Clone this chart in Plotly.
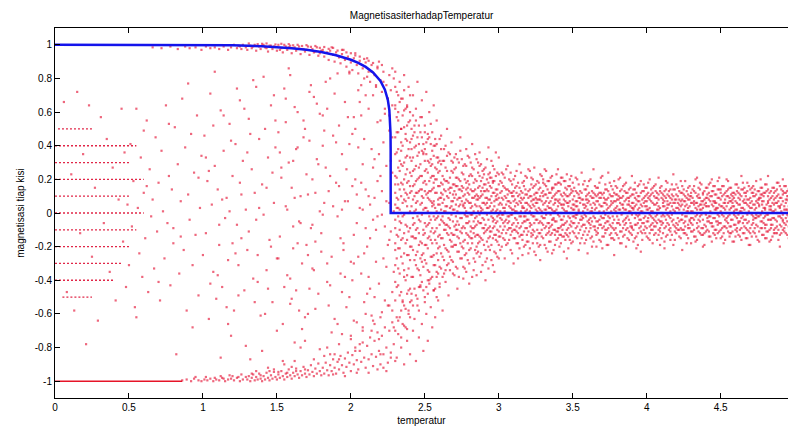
import plotly.graph_objects as go

title_text = "MagnetisasiterhadapTemperatur"
x_label = "temperatur"
y_label = "magnetisasi tiap kisi"

x_tick_vals = [0, 0.5, 1, 1.5, 2, 2.5, 3, 3.5, 4, 4.5]
x_tick_text = ["0", "0.5", "1", "1.5", "2", "2.5", "3", "3.5", "4", "4.5"]
y_tick_vals = [-1, -0.8, -0.6, -0.4, -0.2, 0, 0.2, 0.4, 0.6, 0.8, 1]
y_tick_text = ["-1", "-0.8", "-0.6", "-0.4", "-0.2", "0", "0.2", "0.4", "0.6", "0.8", "1"]

# blue curve
onsager_T = [0, 1.0, 1.2, 1.4, 1.5, 1.6, 1.7, 1.8, 1.9, 2.0, 2.05, 2.1, 2.15, 2.2,
             2.23, 2.24, 2.25, 2.26, 2.265, 2.268, 2.269, 2.2692, 4.96]
onsager_m = [1.0, 0.9993, 0.997, 0.9914, 0.9865, 0.9796, 0.9701, 0.9569, 0.9383, 0.9113,
             0.8928, 0.8687, 0.8357, 0.7848, 0.7332, 0.7074, 0.6718, 0.6136, 0.5565,
             0.475, 0.376, 0.0, 0.0]

# low-temperature stuck states (dotted streaks)
streak_m = [0.5, 0.4, 0.3, 0.2, 0.1, 0.0, -0.1, -0.2, -0.3, -0.4, -0.5]
streak_T_start = [0.02, 0.0, 0.0, 0.0, 0.0, 0.0, 0.0, 0.0, 0.0, 0.0, 0.05]
streak_T_end = [0.25, 0.55, 0.5, 0.6, 0.5, 0.6, 0.55, 0.5, 0.45, 0.4, 0.25]

ground_T = [0.0, 0.86]
ground_m = [-1.0, -1.0]

upper_branch = [
    (0.66, .985), (0.72, .98), (0.78, .99), (0.83, .975), (0.88, .99), (0.91, .98), (0.95, .985),
    (0.99, .97), (1.02, .99), (1.05, .98), (1.08, .985), (1.11, .975), (1.14, .99), (1.17, .97), (1.19, .985),
    (1.21, 1.0), (1.23, .98), (1.24, .995), (1.26, .975), (1.27, 1.0), (1.29, .985), (1.30, .97), (1.32, .995),
    (1.33, .98), (1.35, 1.0), (1.36, .965), (1.38, .99), (1.39, .975), (1.41, 1.0), (1.42, .985), (1.44, .96),
    (1.45, .995), (1.47, .975), (1.48, .99), (1.50, .965), (1.51, 1.0), (1.53, .98), (1.54, .955), (1.56, .99),
    (1.57, .97), (1.59, .995), (1.60, .95), (1.62, .985), (1.63, .965), (1.65, .99), (1.66, .945), (1.68, .975),
    (1.69, .96), (1.71, .99), (1.72, .94), (1.74, .975), (1.75, .955), (1.77, .985), (1.78, .935), (1.80, .965),
    (1.25, .99), (1.34, .99), (1.43, .98), (1.52, .97), (1.58, .985), (1.64, .975), (1.70, .97), (1.76, .96),
    (1.79, .95), (1.46, .995),
    (1.31, 1.008), (1.37, 1.004), (1.43, 1.008), (1.49, 1.002), (1.55, 1.0), (1.61, .997), (1.67, .993),
    (1.73, .988), (1.79, .982), (1.85, .976), (1.91, .966), (1.97, .955), (2.03, .937), (2.09, .916),
    (2.15, .892), (1.53, 1.006), (1.64, 1.0), (1.76, .993), (1.88, .982), (2.00, .95), (1.40, 1.006),
    (1.58, 1.004), (1.70, .998), (1.82, .987), (1.94, .97), (2.06, .93), (2.12, .905), (2.18, .87),
    (1.81, .97), (1.82, .93), (1.84, .955), (1.85, .91), (1.86, .965), (1.88, .94), (1.89, .90), (1.90, .955),
    (1.92, .925), (1.93, .89), (1.94, .945), (1.96, .91), (1.97, .87), (1.98, .93), (2.00, .895), (2.01, .85),
    (2.02, .92), (2.04, .88), (2.05, .83), (2.06, .905), (2.08, .86), (2.09, .80), (2.10, .895), (2.12, .84),
    (2.13, .78), (2.14, .88), (2.16, .82), (2.17, .75), (2.18, .86), (2.20, .79), (2.21, .72), (2.22, .84),
    (2.24, .76), (2.25, .68), (2.26, .82), (2.27, .73), (2.28, .64), (2.29, .80), (1.87, .985), (1.95, .97),
    (2.03, .95), (2.11, .92), (2.19, .90), (2.23, .62), (2.26, .58), (2.15, .70), (2.07, .76), (1.99, .83),
    (2.21, .88), (2.28, .86),
    (2.30, .84), (2.31, .72), (2.32, .60), (2.33, .78), (2.34, .50), (2.35, .68), (2.36, .82), (2.37, .44),
    (2.38, .63), (2.39, .75), (2.40, .55), (2.41, .38), (2.42, .70), (2.43, .48), (2.44, .62), (2.45, .78),
    (2.46, .41), (2.47, .57), (2.48, .67), (2.49, .35), (2.50, .52), (2.51, .72), (2.52, .44), (2.53, .60),
    (2.54, .32), (2.55, .48), (2.56, .64), (2.57, .40), (2.58, .55), (2.59, .30), (2.61, .46), (2.63, .38),
    (2.65, .50), (2.68, .42), (2.71, .35), (2.74, .45), (2.78, .38), (2.82, .41), (2.87, .36), (2.93, .39),
]

lower_branch = [
    (0.86, -.995), (0.89, -.99), (0.92, -1.0), (0.94, -.985), (0.97, -.995), (0.99, -1.0), (1.01, -.99),
    (1.03, -.995), (1.05, -.985), (1.07, -1.0), (1.09, -.99), (1.11, -.995), (1.13, -.98), (1.15, -1.0),
    (1.17, -.99), (1.19, -.985), (1.21, -.995), (1.23, -.98), (1.25, -1.0), (1.27, -.99), (1.29, -.975),
    (1.12, -.97), (1.18, -.965), (1.24, -.975), (0.95, -.975),
    (1.02, -.975), (1.08, -.98), (1.14, -.985), (1.20, -.97), (1.26, -.96), (1.33, -.955), (1.39, -.965),
    (1.45, -.94), (1.51, -.945), (1.57, -.95), (1.63, -.94), (1.69, -.93), (1.36, -.94), (1.48, -.93),
    (1.60, -.915),
    (1.30, -.99), (1.31, -.97), (1.32, -1.0), (1.33, -.98), (1.34, -.96), (1.35, -.995), (1.36, -.975),
    (1.37, -.99), (1.38, -.955), (1.39, -.985), (1.40, -1.0), (1.41, -.97), (1.42, -.99), (1.43, -.95),
    (1.44, -.98), (1.45, -.995), (1.46, -.965), (1.47, -.985), (1.48, -.945), (1.49, -.975), (1.50, -.99),
    (1.51, -.96), (1.52, -.98), (1.53, -.94), (1.54, -.97), (1.55, -.99), (1.56, -.955), (1.57, -.975),
    (1.58, -.93), (1.59, -.965), (1.60, -.985), (1.61, -.95), (1.62, -.97), (1.63, -.925), (1.64, -.96),
    (1.65, -.98), (1.66, -.94), (1.67, -.965), (1.68, -.915), (1.69, -.955), (1.70, -.975), (1.71, -.935),
    (1.72, -.96), (1.73, -.905), (1.74, -.945), (1.75, -.97), (1.76, -.925), (1.77, -.955), (1.78, -.895),
    (1.79, -.94), (1.80, -.965), (1.44, -.92), (1.55, -.90), (1.62, -.88), (1.75, -.87),
    (1.81, -.92), (1.82, -.955), (1.83, -.89), (1.84, -.935), (1.85, -.965), (1.86, -.905), (1.87, -.94),
    (1.88, -.87), (1.89, -.92), (1.90, -.955), (1.91, -.885), (1.92, -.93), (1.93, -.85), (1.94, -.905),
    (1.95, -.95), (1.96, -.865), (1.97, -.915), (1.98, -.83), (1.99, -.89), (2.00, -.94), (2.01, -.845),
    (2.02, -.9), (2.03, -.80), (2.04, -.875), (2.05, -.93), (2.06, -.82), (2.07, -.885), (2.08, -.77),
    (2.09, -.86), (2.10, -.92), (2.11, -.79), (2.12, -.87), (2.13, -.74), (2.14, -.84), (2.15, -.91),
    (2.16, -.76), (2.17, -.855), (2.18, -.71), (2.19, -.82), (2.20, -.90), (2.21, -.73), (2.22, -.84),
    (2.23, -.68), (2.24, -.80), (2.25, -.89), (2.26, -.70), (2.27, -.83), (2.28, -.65), (2.29, -.78),
    (2.30, -.88), (1.84, -.80), (1.88, -.96), (1.92, -.78), (1.96, -.97), (2.00, -.75), (2.04, -.95),
    (2.08, -.68), (2.12, -.95), (2.16, -.66), (2.20, -.62), (2.24, -.94), (2.28, -.58), (1.86, -.84),
    (1.94, -.72), (2.02, -.64), (2.10, -.60), (2.18, -.93), (2.26, -.55), (2.14, -.70), (2.22, -.92),
    (2.31, -.86), (2.32, -.72), (2.33, -.62), (2.34, -.80), (2.35, -.52), (2.36, -.90), (2.37, -.68),
    (2.38, -.76), (2.39, -.58), (2.40, -.84), (2.41, -.48), (2.42, -.70), (2.43, -.63), (2.44, -.88),
    (2.45, -.55), (2.46, -.74), (2.47, -.44), (2.48, -.66), (2.49, -.82), (2.50, -.50), (2.51, -.60),
    (2.52, -.76), (2.53, -.42), (2.54, -.56), (2.55, -.68), (2.56, -.46), (2.57, -.62), (2.58, -.38),
    (2.59, -.52), (2.60, -.44), (2.62, -.58), (2.64, -.41), (2.66, -.49), (2.69, -.36), (2.72, -.45),
    (2.76, -.39), (2.80, -.42), (2.85, -.37), (2.91, -.40), (2.97, -.35),
]

middle_cloud = [
    (0.06, .66), (0.08, -.47), (0.11, .23), (0.13, -.58), (0.15, .72), (0.17, -.12), (0.19, .35), (0.21, -.78),
    (0.23, .64), (0.25, -.26), (0.27, .15), (0.29, -.64), (0.31, .57), (0.33, -.06), (0.35, .44), (0.37, -.35),
    (0.39, .27), (0.41, -.52), (0.43, .08), (0.45, .62), (0.46, -.17), (0.47, .36), (0.48, -.44), (0.49, .05),
    (0.50, -.31),
    (0.51, .41), (0.52, -.08), (0.53, .19), (0.54, -.56), (0.55, .62), (0.56, .03), (0.57, -.24), (0.58, .33),
    (0.59, -.38), (0.60, .12), (0.61, -.15), (0.62, .55), (0.63, -.47), (0.64, .26), (0.65, -.02), (0.66, .08),
    (0.67, -.33), (0.68, .45), (0.69, -.11), (0.70, .18), (0.71, -.52), (0.72, .37), (0.73, .01), (0.74, -.27),
    (0.75, .64), (0.76, -.06), (0.77, .22), (0.78, -.43), (0.79, .14), (0.80, -.18), (0.81, .51), (0.82, -.84),
    (0.83, .29), (0.84, -.36), (0.85, .07), (0.86, .68), (0.87, -.22), (0.88, .39), (0.89, -.58), (0.90, .11),
    (0.91, -.04), (0.92, .47), (0.93, -.31), (0.94, .24), (0.95, -.13), (0.96, .58), (0.97, -.49), (0.98, .03),
    (0.99, .34), (1.00, -.25), (0.55, -.62), (0.62, .16), (0.70, -.41), (0.77, .53), (0.85, -.14), (0.90, .77),
    (0.93, -.68), (0.97, .21), (0.60, .49), (0.80, -.09),
    (1.01, .46), (1.02, -.12), (1.03, .19), (1.04, -.63), (1.05, .71), (1.06, .05), (1.07, -.35), (1.08, .28),
    (1.09, -.51), (1.10, .14), (1.11, -.19), (1.12, .61), (1.13, -.44), (1.14, .37), (1.15, -.03), (1.16, .09),
    (1.17, -.28), (1.18, .53), (1.19, -.73), (1.20, .22), (1.21, -.58), (1.22, .41), (1.23, -.07), (1.24, -.31),
    (1.25, .67), (1.26, -.15), (1.27, .31), (1.28, -.46), (1.29, .02), (1.30, -.22), (1.31, .56), (1.32, -.87),
    (1.33, .26), (1.34, -.39), (1.35, .12), (1.36, .75), (1.37, -.25), (1.38, .44), (1.39, -.61), (1.40, .17),
    (1.41, -.01), (1.42, .50), (1.43, -.34), (1.44, .33), (1.45, -.16), (1.46, .64), (1.47, -.53), (1.48, .06),
    (1.49, .39), (1.50, -.27), (1.02, .33), (1.05, -.42), (1.08, .84), (1.11, -.07), (1.14, .58), (1.17, -.66),
    (1.20, -.18), (1.23, .74), (1.26, .11), (1.29, -.79), (1.32, .47), (1.35, -.53), (1.38, .03), (1.41, .81),
    (1.44, -.45), (1.47, .24), (1.50, -.70), (1.04, .25), (1.07, .52), (1.10, -.37), (1.13, .08), (1.16, -.56),
    (1.19, .43), (1.22, -.24), (1.25, .18), (1.28, .62), (1.31, -.11), (1.34, .79), (1.37, -.41), (1.40, -.82),
    (1.43, .15), (1.46, -.20), (1.49, .55), (1.12, -.86), (1.18, .01), (1.24, -.49), (1.30, .36), (1.36, -.04),
    (1.42, -.60), (1.48, .70),
    (1.51, .48), (1.52, -.14), (1.53, .21), (1.54, -.66), (1.55, .74), (1.56, .04), (1.57, -.37), (1.58, .30),
    (1.59, -.54), (1.60, .15), (1.61, -.21), (1.62, .63), (1.63, -.46), (1.64, .39), (1.65, -.05), (1.66, .10),
    (1.67, -.30), (1.68, .55), (1.69, -.76), (1.70, .23), (1.71, -.60), (1.72, .43), (1.73, -.09), (1.74, -.33),
    (1.75, .69), (1.76, -.17), (1.77, .32), (1.78, -.48), (1.79, .01), (1.80, -.23), (1.81, .58), (1.82, -.85),
    (1.83, .27), (1.84, -.41), (1.85, .13), (1.86, .80), (1.87, -.26), (1.88, .46), (1.89, -.63), (1.90, .18),
    (1.91, -.02), (1.92, .52), (1.93, -.36), (1.94, .35), (1.95, -.18), (1.96, .66), (1.97, -.56), (1.98, .07),
    (1.99, .41), (2.00, -.29), (1.52, .36), (1.55, -.44), (1.58, .86), (1.61, -.08), (1.64, .60), (1.67, -.69),
    (1.70, -.19), (1.73, .76), (1.76, .12), (1.79, -.81), (1.82, .49), (1.85, -.55), (1.88, .04), (1.91, .83),
    (1.94, -.47), (1.97, .26), (2.00, -.73), (1.53, .27), (1.56, .54), (1.59, -.39), (1.62, .09), (1.65, -.58),
    (1.68, .45), (1.71, -.25), (1.74, .20), (1.77, .65), (1.80, -.12), (1.83, .78), (1.86, -.43), (1.89, -.84),
    (1.92, .16), (1.95, -.22), (1.98, .57), (1.54, -.88), (1.57, .02), (1.60, -.51), (1.63, .38), (1.66, -.06),
    (1.69, -.62), (1.72, .72), (1.75, -.34), (1.78, .29), (1.81, -.01), (1.84, .62), (1.87, -.71), (1.90, .42),
    (1.93, -.15), (1.96, .07), (1.99, -.50), (1.51, -.27), (1.56, .68), (1.61, .31), (1.66, -.80), (1.71, .11),
    (1.76, -.57), (1.81, .40), (1.86, .22), (1.91, -.66), (1.96, -.38), (1.59, .82), (1.64, -.18), (1.69, .50),
    (1.74, -.07), (1.79, .59), (1.84, -.30), (1.89, .71), (1.94, .02), (1.99, .84), (1.62, -.77), (1.72, -.45),
    (1.82, .06), (1.92, -.87),
    (2.01, .47), (2.02, -.13), (2.03, .20), (2.04, -.65), (2.05, .73), (2.06, .03), (2.07, -.36), (2.08, .29),
    (2.09, -.53), (2.10, .14), (2.11, -.20), (2.12, .62), (2.13, -.45), (2.14, .38), (2.15, -.04), (2.16, .09),
    (2.17, -.29), (2.18, .54), (2.19, -.75), (2.20, .22), (2.21, -.59), (2.22, .42), (2.23, -.08), (2.24, -.32),
    (2.25, .68), (2.26, -.16), (2.27, .31), (2.28, -.47), (2.29, .01), (2.30, -.22),
    (2.01, -.40), (2.02, .57), (2.03, -.82), (2.04, .11), (2.05, -.26), (2.06, .66), (2.07, .18), (2.08, -.70),
    (2.09, .44), (2.10, -.09), (2.11, .81), (2.12, -.38), (2.13, .05), (2.14, -.61), (2.15, .27), (2.16, -.50),
    (2.17, .76), (2.18, -.02), (2.19, .35), (2.20, -.84), (2.21, .13), (2.22, -.27), (2.23, .59), (2.24, .07),
    (2.25, -.55), (2.26, .49), (2.27, -.11), (2.28, .24), (2.29, -.68), (2.30, .64),
    (2.01, .16), (2.02, -.30), (2.03, .50), (2.04, -.06), (2.05, .39), (2.06, -.78), (2.07, .58), (2.08, .02),
    (2.09, -.24), (2.10, .70), (2.11, -.48), (2.12, .10), (2.13, -.15), (2.14, .84), (2.15, -.64), (2.16, .32),
    (2.17, -.10), (2.18, .19), (2.19, -.42), (2.20, .55), (2.21, -.01), (2.22, .78), (2.23, -.52), (2.24, .28),
    (2.25, -.19), (2.26, .06), (2.27, -.86), (2.28, .45), (2.29, -.35), (2.30, .17),
]

band_columns = [
    (2.30, [.12, -.31, .45, -.09, .62, -.52, .22, -.04, .35, -.70, .75, -.18, .05, -.41]),
    (2.32, [-.21, .08, .38, -.43, .27, -.64, .03, .55, -.14, .70, -.33, .17, .48, -.02]),
    (2.34, [.29, -.16, -.47, .37, .00, .68, -.26, -.06, .18, -.58, .50, -.74, .10, .42]),
    (2.36, [-.34, .14, .51, -.24, .08, -.55, .61, -.01, .30, -.38, .20, .73, -.12, -.67]),
    (2.38, [.04, -.37, .26, .52, -.16, .34, -.69, .18, -.25, .64, -.08, .43, -.48, .11]),
    (2.40, [-.09, .33, -.28, .16, .60, -.45, .01, -.20, .42, -.62, .12, -.53, .24, .70]),
    (2.42, [.08, -.22, .33, -.07, .46, -.38, .16, -.03, .25, -.55, .58, -.14]),
    (2.44, [-.15, .06, .28, -.31, .19, -.49, .02, .40, -.10, .55, -.25, .12]),
    (2.46, [.21, -.12, -.34, .27, .00, .52, -.19, -.04, .13, -.44, .36, -.58]),
    (2.48, [-.25, .10, .37, -.18, .06, -.41, .45, -.01, .22, -.29, .14, .57]),
    (2.50, [.03, -.28, .19, .38, -.12, .25, -.53, .13, -.19, .48, -.06, .31]),
    (2.52, [-.07, .24, -.21, .12, .47, -.34, .01, -.15, .31, -.48, .09, -.40]),
    (2.54, [.28, -.04, .13, -.39, .21, -.16, .53, .00, -.26, .07, .41, -.11]),
    (2.56, [-.12, .34, -.25, .07, -.46, .15, .22, -.31, .05, .40, -.02, .18]),
    (2.58, [.01, -.18, .41, -.09, .26, -.35, .12, .20, -.03, -.50, .33, -.24]),
    (2.60, [-.20, .09, .25, -.32, .00, .44, -.07, -.42, .16, .31, -.13, .05]),
    (2.62, [.06, -.15, .22, -.05, .31, -.26, .11, -.02, .17, -.38]),
    (2.64, [-.10, .04, .19, -.21, .13, -.34, .01, .27, -.07, .40]),
    (2.66, [.14, -.08, -.23, .18, .00, .36, -.13, -.03, .09, -.30]),
    (2.68, [-.17, .07, .25, -.12, .04, -.28, .31, -.01, .15, -.20]),
    (2.70, [.02, -.19, .13, .26, -.08, .17, -.37, .09, -.13, .33]),
    (2.72, [-.05, .16, -.14, .08, .32, -.23, .01, -.10, .21, -.33]),
    (2.74, [.19, -.03, .09, -.27, .14, -.11, .37, .00, -.18, .05]),
    (2.76, [-.08, .23, -.17, .05, -.32, .10, .15, -.21, .04, .28]),
    (2.78, [.01, -.12, .28, -.06, .18, -.24, .08, .14, -.02, -.35]),
    (2.80, [-.14, .06, .17, -.22, .00, .33, -.05, -.30, .11, .22]),
    (2.82, [.09, -.01, -.15, .22, -.09, .13, .27, -.18, .04, -.38]),
    (2.84, [-.03, .14, .05, -.29, .20, -.08, -.14, .35, .10, -.22]),
    (2.86, [.15, -.18, .08, .01, -.13, .24, -.23, .10, -.05, .30]),
    (2.88, [-.06, .10, -.24, .19, .03, -.15, .29, -.35, .13, .01]),
    (2.90, [.13, .00, -.09, .23, -.19, .06, .17, -.04, .26, -.12]),
    (2.92, [-.10, .20, .03, -.17, .09, -.27, .14, .32, -.01, .06]),
    (2.94, [.04, -.08, .24, -.14, .16, .00, -.22, .08, -.11, .21]),
    (2.96, [-.15, .12, -.05, .28, -.09, .18, -.31, .02, .19, -.03]),
    (2.98, [.08, -.16, .14, .01, -.24, .22, .10, -.06, -.13, .36]),
    (3.00, [-.01, .17, -.11, .09, .33, -.19, .05, -.14, .23, -.27]),
    (3.02, [.05, -.12, .18, -.04, .24, -.20, .09, -.01, .13]),
    (3.04, [-.08, .03, .15, -.16, .10, -.27, .01, .21, -.05]),
    (3.06, [.11, -.06, -.18, .14, .00, .28, -.10, -.02, .07]),
    (3.08, [-.13, .06, .19, -.09, .03, -.22, .24, -.01, .12]),
    (3.10, [.02, -.15, .10, .20, -.06, .13, -.30, .07, -.10]),
    (3.12, [-.04, .12, -.11, .06, .25, -.18, .01, -.08, .16]),
    (3.14, [.15, -.02, .07, -.21, .11, -.09, .29, .00, -.14]),
    (3.16, [-.06, .18, -.13, .04, -.25, .08, .12, -.16, .03]),
    (3.18, [.01, -.09, .22, -.05, .14, -.19, .06, .11, -.02]),
    (3.20, [-.11, .05, .13, -.17, .00, .26, -.04, -.24, .09]),
    (3.22, [.07, -.01, -.12, .17, -.07, .10, .21, -.14, .03]),
    (3.24, [-.02, .11, .04, -.23, .16, -.06, -.11, .27, .08]),
    (3.26, [.12, -.14, .06, .01, -.10, .19, -.18, .08, -.04]),
    (3.28, [-.05, .08, -.19, .15, .02, -.12, .23, -.28, .10]),
    (3.30, [.10, .00, -.07, .18, -.15, .05, .13, -.03, .20]),
    (3.32, [-.08, .16, .02, -.13, .07, -.21, .11, .25, -.01]),
    (3.34, [.03, -.06, .19, -.11, .12, .00, -.17, .06, -.09]),
    (3.36, [-.12, .09, -.04, .22, -.07, .14, -.24, .02, .15]),
    (3.38, [.06, -.13, .11, .01, -.19, .17, .08, -.05, -.10]),
    (3.40, [-.01, .13, -.09, .07, .26, -.15, .04, -.11, .18]),
    (3.42, [.11, -.04, .17, -.18, .05, -.08, .21, .00, -.13]),
    (3.44, [-.07, .02, -.14, .12, -.02, .19, -.23, .08, .05]),
    (3.46, [.14, -.10, .06, -.05, .23, -.13, .01, -.27, .10]),
    (3.48, [-.03, .07, -.12, .16, .00, -.07, .11, .20, -.16]),
    (3.50, [.08, -.17, .02, .13, -.06, .18, -.11, .05, -.02]),
    (3.52, [.04, -.09, .13, -.03, .21, -.14, .07, -.01]),
    (3.54, [-.06, .02, .17, -.12, .09, -.22, .01, .11]),
    (3.56, [.08, -.04, -.15, .12, .00, .24, -.08, -.02]),
    (3.58, [-.11, .05, .14, -.07, .03, -.18, .19, -.01]),
    (3.60, [.02, -.13, .08, .16, -.05, .11, -.24, .06]),
    (3.62, [-.03, .10, -.09, .05, .20, -.15, .01, -.07]),
    (3.64, [.12, -.02, .06, -.17, .09, -.08, .26, .00]),
    (3.66, [-.05, .15, -.11, .03, -.20, .07, .10, -.13]),
    (3.68, [.01, -.07, .18, -.04, .12, -.16, .05, .09]),
    (3.70, [-.09, .04, .11, -.14, .00, .22, -.03, -.21]),
    (3.72, [.06, -.01, -.10, .14, -.06, .08, .17, -.12]),
    (3.74, [-.02, .09, .03, -.19, .13, -.05, -.09, .24]),
    (3.76, [.10, -.12, .05, .01, -.08, .16, -.15, .07]),
    (3.78, [-.04, .07, -.16, .12, .02, -.10, .19, -.25]),
    (3.80, [.08, .00, -.06, .15, -.13, .04, .11, -.02]),
    (3.82, [-.07, .13, .02, -.11, .06, -.18, .09, .21]),
    (3.84, [.03, -.05, .16, -.09, .10, .00, -.14, .05]),
    (3.86, [-.10, .08, -.03, .18, -.06, .12, -.20, .02]),
    (3.88, [.05, -.11, .09, .01, -.16, .14, .07, -.04]),
    (3.90, [-.01, .11, -.08, .06, .22, -.13, .03, -.09]),
    (3.92, [.09, -.03, .14, -.15, .04, -.07, .18, .00]),
    (3.94, [-.06, .02, -.12, .10, -.02, .16, -.19, .07]),
    (3.96, [.12, -.08, .05, -.04, .19, -.11, .01, -.23]),
    (3.98, [-.03, .06, -.10, .13, .00, -.06, .09, .17]),
    (4.00, [.07, -.14, .02, .11, -.05, .15, -.09, .04]),
    (4.02, [-.08, .03, .10, -.16, .08, -.01, .20, -.12]),
    (4.04, [.01, -.06, .15, -.03, .12, -.18, .06, -.10]),
    (4.06, [-.12, .09, -.02, .05, -.08, .13, .17, -.05]),
    (4.08, [.04, -.10, .08, -.13, .02, .21, -.04, .11]),
    (4.10, [-.05, .12, -.07, .00, .16, -.15, .09, -.02]),
    (4.12, [.10, -.02, .04, -.09, -.17, .07, .13, -.21]),
    (4.14, [-.01, .07, -.13, .11, .03, -.06, .18, .05]),
    (4.16, [.06, -.09, .01, .14, -.11, .09, -.03, -.16]),
    (4.18, [-.07, .14, -.04, .02, .10, -.19, .06, .23]),
    (4.20, [.03, -.12, .11, -.06, .17, .00, -.09, .08]),
    (4.22, [-.10, .05, .00, .13, -.14, .08, .02, -.05]),
    (4.24, [.08, -.04, .16, -.10, .05, -.22, .12, -.01]),
    (4.26, [-.02, .10, -.08, .04, .19, -.12, -.05, .07]),
    (4.28, [.11, -.07, .03, -.15, .08, .01, .15, -.09]),
    (4.30, [-.06, .01, .12, -.03, -.18, .10, .06, -.11]),
    (4.32, [.05, -.10, .07, .16, -.04, .13, -.14, .00]),
    (4.34, [-.09, .06, -.01, .10, .02, -.16, .21, -.06]),
    (4.36, [.02, -.05, .14, -.12, .09, -.02, .05, .18]),
    (4.38, [-.04, .12, -.09, .03, -.13, .07, .11, -.20]),
    (4.40, [.09, -.01, .06, -.08, .15, -.11, .00, .04]),
    (4.42, [-.11, .04, .17, -.05, .08, -.14, .12, -.02]),
    (4.44, [.00, -.08, .10, .05, -.17, .13, -.06, .20]),
    (4.46, [.07, -.13, .02, -.03, .11, .06, -.10, .16]),
    (4.48, [-.05, .09, -.12, .14, -.01, .19, -.07, .03]),
    (4.50, [.04, -.06, .08, -.15, .12, .01, .14, -.10]),
    (4.52, [-.08, .11, -.02, .06, -.12, .16, .03, -.18]),
    (4.54, [.10, -.03, .13, -.09, .04, -.05, .20, .00]),
    (4.56, [-.01, .07, -.14, .09, .15, -.08, .02, -.12]),
    (4.58, [.06, -.11, .04, .12, -.04, .10, -.17, .08]),
    (4.60, [-.07, .02, .11, -.10, .07, -.02, .17, -.14]),
    (4.62, [.12, -.05, -.01, .15, -.13, .05, .09, -.06]),
    (4.64, [-.03, .14, -.09, .03, .10, -.16, .01, .22]),
    (4.66, [.08, -.08, .06, -.12, .02, .12, -.04, .15]),
    (4.68, [-.10, .05, .13, -.06, -.15, .08, .18, -.01]),
    (4.70, [.03, -.12, .09, .00, .14, -.09, .06, -.19]),
    (4.72, [-.06, .10, -.04, .16, -.02, .05, -.11, .12]),
    (4.74, [.11, -.01, .07, -.14, .03, -.07, .19, -.03]),
    (4.76, [-.02, .08, -.11, .05, .13, -.17, .04, .09]),
    (4.78, [.05, -.09, .15, -.05, .01, .11, -.13, .07]),
    (4.80, [-.09, .03, .02, .12, -.07, .17, -.02, -.15]),
    (4.82, [.07, -.04, .10, -.11, .06, -.01, .14, .22]),
    (4.84, [-.04, .13, -.07, .02, -.16, .09, .04, -.09]),
    (4.86, [.01, -.10, .12, .08, -.03, .15, -.12, .05]),
    (4.88, [-.12, .06, -.05, .14, .10, -.08, .00, .18]),
    (4.90, [.09, -.02, .03, -.13, .16, .04, -.07, -.20]),
    (4.92, [-.05, .11, -.10, .07, -.01, .13, .20, -.04]),
    (4.94, [.02, -.07, .08, -.12, .12, -.03, .06, .16]),
    (4.96, [-.08, .04, .14, -.02, .07, -.15, .10, .01]),
]

band_columns_odd = [
    (2.31, [.21, -.44, .03, .57, -.13, .36, -.62, .09, -.27, .48]),
    (2.33, [-.05, .31, -.36, .14, .66, -.21, .02, -.49, .25, -.10]),
    (2.35, [.40, -.02, .17, -.53, .06, -.30, .58, -.15, .28, -.66]),
    (2.37, [-.18, .47, .07, -.40, .23, -.07, .62, -.57, .12, .33]),
    (2.39, [.09, -.25, .54, -.11, .38, -.46, .00, .19, -.33, -.60]),
    (2.41, [-.14, .22, -.38, .44, .04, -.20, .31, -.52, .13, .50]),
    (2.43, [.17, -.06, .39, -.28, -.45, .10, .26, -.15, .01, .52]),
    (2.45, [-.23, .12, -.02, .34, -.51, .20, -.09, .45, -.33, .07]),
    (2.47, [.05, -.17, .29, -.37, .14, .48, -.27, -.05, .22, -.43]),
    (2.49, [-.10, .36, -.24, .02, .18, -.46, .41, -.13, .09, -.32]),
    (2.51, [.26, -.08, .11, -.30, .42, -.19, .03, -.44, .17, .35]),
    (2.53, [-.02, .19, -.35, .08, -.14, .30, -.40, .45, -.06, .13]),
    (2.55, [.14, -.26, .04, .37, -.09, .22, -.18, .06, -.38, .29]),
    (2.57, [-.16, .03, .27, -.11, .44, -.31, .12, -.04, .20, -.45]),
    (2.59, [.08, -.21, .16, -.02, -.36, .33, .05, -.14, .24, -.28]),
    (2.61, [-.04, .12, -.24, .29, .02, -.15, .38, -.33, .09, .18]),
    (2.63, [.20, -.10, .01, -.28, .14, .31, -.06, .08, -.19, -.36]),
    (2.65, [-.12, .25, -.07, .10, -.31, .04, .19, -.22, .34, .00]),
    (2.67, [.03, -.16, .21, -.04, .12, -.26, .35, -.09, -.34, .15]),
    (2.69, [-.20, .07, .30, -.13, .02, .17, -.29, .24, -.05, .11]),
    (2.71, [.11, -.02, -.19, .16, .27, -.10, .05, -.32, .21, -.07]),
    (2.73, [-.07, .14, .04, -.23, .09, .30, -.15, .00, -.38, .20]),
    (2.75, [.16, -.12, .24, -.03, -.20, .07, .13, -.27, .32, -.09]),
    (2.77, [-.01, .20, -.09, .11, -.25, .03, .29, -.16, .06, -.33]),
    (2.79, [.07, -.18, .12, .34, -.06, -.13, .19, -.02, -.28, .15]),
    (2.81, [-.11, .03, .23, -.08, .14, -.21, .06, .30, -.15, -.01]),
    (2.83, [.18, -.05, -.12, .09, .26, -.27, .01, -.09, .13, -.34]),
    (2.85, [-.02, .11, -.20, .19, -.07, .04, .32, -.13, .08, -.24]),
    (2.87, [.04, -.14, .16, -.01, -.26, .22, .09, -.06, .28, -.17]),
    (2.89, [-.09, .21, .02, -.16, .11, -.03, -.31, .15, .06, .25]),
    (2.91, [.13, -.07, .27, -.22, .05, .17, -.11, .00, -.29, .09]),
    (2.93, [-.04, .08, -.15, .13, .23, -.09, .03, -.20, .18, -.33]),
    (2.95, [.10, -.19, .06, -.02, .15, -.28, .21, .01, -.11, .31]),
    (2.97, [-.13, .04, .19, -.08, .00, .12, -.23, .26, -.04, .07]),
    (2.99, [.02, -.10, .14, -.17, .08, .24, -.05, -.26, .11, -.02]),
    (3.01, [.06, -.03, .12, -.14, .01, .19, -.08, -.22]),
    (3.03, [-.10, .08, -.01, .16, -.06, .03, .23, -.15]),
    (3.05, [.00, -.12, .09, -.04, .14, -.19, .05, .26]),
    (3.07, [.13, -.02, -.09, .04, -.16, .20, .07, -.05]),
    (3.09, [-.07, .10, .02, -.11, .17, -.01, -.24, .12]),
    (3.11, [.04, -.15, .15, .08, -.03, .22, -.10, .01]),
    (3.13, [-.12, .05, -.06, .18, .00, -.18, .10, -.27]),
    (3.15, [.09, -.08, .01, .13, -.13, .06, .24, -.02]),
    (3.17, [-.02, .16, -.11, .03, .09, -.20, -.05, .19]),
    (3.19, [.11, -.04, .06, -.17, .21, .02, -.09, -.13]),
    (3.21, [-.08, .01, .14, -.06, -.21, .10, .04, .25]),
    (3.23, [.05, -.13, .08, .20, -.02, -.10, .15, -.18]),
    (3.25, [-.04, .09, -.15, .02, .12, -.25, .06, .17]),
    (3.27, [.14, -.06, .03, -.12, .18, .00, -.20, .08]),
    (3.29, [-.10, .12, -.02, .07, -.14, .22, .01, -.06]),
    (3.31, [.02, -.09, .17, -.19, .06, -.03, .11, .26]),
    (3.33, [-.06, .04, -.12, .14, .00, .19, -.23, .09]),
    (3.35, [.12, -.01, .07, -.08, -.17, .03, .21, -.13]),
    (3.37, [-.03, .15, -.10, .05, .10, -.22, -.04, .01]),
    (3.39, [.08, -.11, .02, .17, -.05, .12, -.16, .23]),
    (3.41, [-.09, .06, .13, -.02, -.13, .08, .18, -.20]),
    (3.43, [.03, -.07, -.14, .10, .21, -.04, .05, -.10]),
    (3.45, [-.12, .11, .01, -.16, .07, .15, -.06, .19]),
    (3.47, [.06, -.02, .16, -.09, -.21, .04, .10, -.14]),
    (3.49, [-.05, .14, -.08, .03, .12, -.18, .00, .22]),
    (3.51, [.02, -.06, .10, -.12, .05, .15, -.02]),
    (3.53, [-.08, .04, -.01, .12, -.15, .07, .20]),
    (3.55, [.06, -.10, .13, .00, -.04, .09, -.18]),
    (3.57, [-.03, .08, -.13, .05, .17, -.07, .01]),
    (3.59, [.10, -.02, .04, -.16, .08, -.09, .14]),
    (3.61, [-.06, .12, .00, .07, -.11, .19, -.04]),
    (3.63, [.03, -.14, .09, -.05, .13, .01, -.20]),
    (3.65, [-.10, .02, .16, -.08, .05, -.03, .11]),
    (3.67, [.07, -.05, -.12, .11, .00, .15, -.09]),
    (3.69, [-.02, .09, .04, -.17, .12, -.07, .21]),
    (3.71, [.12, -.08, .01, .06, -.14, .09, -.03]),
    (3.73, [-.05, .14, -.10, .02, .08, -.19, .05]),
    (3.75, [.04, -.03, .11, -.13, .18, .00, -.07]),
    (3.77, [-.09, .06, -.02, .14, -.06, .10, -.15]),
    (3.79, [.01, -.12, .07, .03, -.09, .16, .11]),
    (3.81, [-.04, .10, -.15, .08, .02, -.06, .20]),
    (3.83, [.09, -.01, .05, -.11, .14, -.18, .00]),
    (3.85, [-.07, .13, .02, -.04, -.13, .07, .17]),
    (3.87, [.05, -.09, .12, .00, .09, -.15, -.02]),
    (3.89, [-.12, .04, -.06, .15, .01, .10, -.08]),
    (3.91, [.03, .11, -.10, .06, -.17, .02, .14]),
    (3.93, [-.01, -.07, .08, -.14, .12, .05, -.21]),
    (3.95, [.10, -.04, .03, .17, -.09, -.01, .07]),
    (3.97, [-.06, .08, -.12, .01, .13, -.16, .04]),
    (3.99, [.07, -.02, .15, -.08, .04, .10, -.12]),
    (4.01, [-.03, .12, -.05, .09, -.15, .02, .18]),
    (4.03, [.11, -.10, .01, -.02, .07, -.07, .14]),
    (4.05, [-.08, .05, .10, -.13, .00, .16, -.04]),
    (4.07, [.02, -.06, -.16, .12, .06, -.01, .09]),
    (4.09, [-.11, .13, .03, -.05, .15, -.09, -.19]),
    (4.11, [.06, -.01, .11, .04, -.12, .08, -.06]),
    (4.13, [-.04, .09, -.08, .14, .02, -.14, .19]),
    (4.15, [.13, -.07, .00, -.10, .10, .05, -.02]),
    (4.17, [-.01, .04, -.13, .08, -.05, .17, .11]),
    (4.19, [.08, -.11, .06, .01, .14, -.08, -.16]),
    (4.21, [-.07, .15, -.03, .10, -.10, .03, .06]),
    (4.23, [.04, -.04, .12, -.15, .07, .19, -.09]),
    (4.25, [-.10, .07, .02, -.06, .11, -.12, .14]),
    (4.27, [.01, -.13, .09, .05, -.02, .13, -.18]),
    (4.29, [-.05, .10, -.09, .16, .04, -.04, .08]),
    (4.31, [.09, -.03, .14, -.11, -.07, .06, .01]),
    (4.33, [-.02, .06, -.14, .03, .12, -.17, .20]),
    (4.35, [.11, -.08, .04, .09, -.04, .15, -.11]),
    (4.37, [-.09, .02, .17, -.01, .07, -.13, .05]),
    (4.39, [.05, -.12, .08, -.07, .13, .00, -.19]),
    (4.41, [-.03, .11, -.05, .15, -.10, .04, .09]),
    (4.43, [.07, -.06, .01, -.14, .10, .18, -.02]),
    (4.45, [-.12, .04, .13, -.03, -.08, .07, .16]),
    (4.47, [.02, -.10, .06, .11, -.15, .03, -.05]),
    (4.49, [-.06, .14, -.11, .05, .09, -.02, .21]),
    (4.51, [.10, -.01, .04, -.09, .16, -.14, .00]),
    (4.53, [-.04, .08, -.16, .12, .02, .06, -.08]),
    (4.55, [.06, -.11, .10, -.02, -.06, .14, .19]),
    (4.57, [-.08, .03, .15, -.12, .07, -.04, .11]),
    (4.59, [.01, .12, -.07, .04, -.17, .09, -.01]),
    (4.61, [-.11, .06, .02, .13, -.03, -.09, .17]),
    (4.63, [.08, -.05, .11, -.10, .05, .01, -.14]),
    (4.65, [-.02, .14, -.12, .07, .18, -.06, .03]),
    (4.67, [.12, -.09, .00, -.04, .10, -.15, .06]),
    (4.69, [-.05, .04, .16, -.11, .01, .08, -.19]),
    (4.71, [.03, -.14, .07, .12, -.07, .15, -.01]),
    (4.73, [-.09, .10, -.03, .02, .14, -.12, .05]),
    (4.75, [.06, -.02, .13, -.16, .08, .00, -.08]),
    (4.77, [-.01, .09, -.09, .15, -.05, .11, .20]),
    (4.79, [.10, -.06, .03, -.13, .12, -.03, .07]),
    (4.81, [-.07, .13, .05, -.01, -.11, .17, -.15]),
    (4.83, [.04, -.10, .12, .08, -.04, .02, -.17]),
    (4.85, [-.03, .06, -.14, .10, .15, -.07, .01]),
    (4.87, [.09, -.04, .02, -.09, .06, .13, -.12]),
    (4.89, [-.10, .11, .07, -.02, -.16, .04, .18]),
    (4.91, [.05, -.08, .14, .01, .09, -.12, -.03]),
    (4.93, [-.06, .02, -.11, .12, .04, .16, -.09]),
    (4.95, [.02, -.13, .08, -.05, .13, -.01, .10]),
]

# ---- build traces ----
pts_T, pts_m = [], []
for group in (middle_cloud, upper_branch, lower_branch):
    for t, m in group:
        pts_T.append(t)
        pts_m.append(m)
for cols in (band_columns, band_columns_odd):
    for t, ms in cols:
        for m in ms:
            pts_T.append(t)
            pts_m.append(m)

streak_x, streak_y = [], []
for m, t0, t1 in zip(streak_m, streak_T_start, streak_T_end):
    streak_x += [t0, t1, None]
    streak_y += [m, m, None]

fig = go.Figure()
fig.add_trace(go.Scatter(
    x=streak_x, y=streak_y, mode="lines",
    line=dict(color="rgba(220,0,40,0.85)", width=1.3, dash="2px,2px"),
    hoverinfo="skip", showlegend=False))
fig.add_trace(go.Scatter(
    x=ground_T, y=ground_m, mode="lines",
    line=dict(color="rgb(230,20,40)", width=1.5),
    hoverinfo="skip", showlegend=False))
fig.add_trace(go.Scatter(
    x=pts_T, y=pts_m, mode="markers",
    marker=dict(symbol="square", size=2.2, color="rgba(228,10,45,0.62)", line=dict(width=0)),
    hoverinfo="skip", showlegend=False))
fig.add_trace(go.Scatter(
    x=onsager_T, y=onsager_m, mode="lines",
    line=dict(color="rgb(20,20,235)", width=2.5),
    hoverinfo="skip", showlegend=False))

axis_font = dict(family="Liberation Sans, Arial, sans-serif", size=10, color="#000")
fig.update_layout(
    width=788, height=430,
    margin=dict(l=55, r=0, t=28, b=32),
    paper_bgcolor="white", plot_bgcolor="white",
    font=axis_font,
    title=dict(text=title_text, x=0.535, xanchor="center", y=0.965, yanchor="middle",
               font=dict(family="Liberation Sans, Arial, sans-serif", size=10, color="#000")),
)
fig.update_xaxes(
    range=[0, 4.955], tickvals=x_tick_vals, ticktext=x_tick_text,
    ticks="inside", ticklen=5, tickcolor="#000", tickwidth=1,
    showline=True, linecolor="#000", linewidth=1, mirror="ticks",
    showgrid=False, zeroline=False,
    title=dict(text=x_label, standoff=4, font=axis_font),
)
fig.update_yaxes(
    range=[-1.1, 1.1], tickvals=y_tick_vals, ticktext=y_tick_text,
    ticks="inside", ticklen=5, tickcolor="#000", tickwidth=1,
    showline=True, linecolor="#000", linewidth=1, mirror=False,
    showgrid=False, zeroline=False,
    title=dict(text=y_label, standoff=8, font=axis_font),
)

fig.write_html("out.html")
